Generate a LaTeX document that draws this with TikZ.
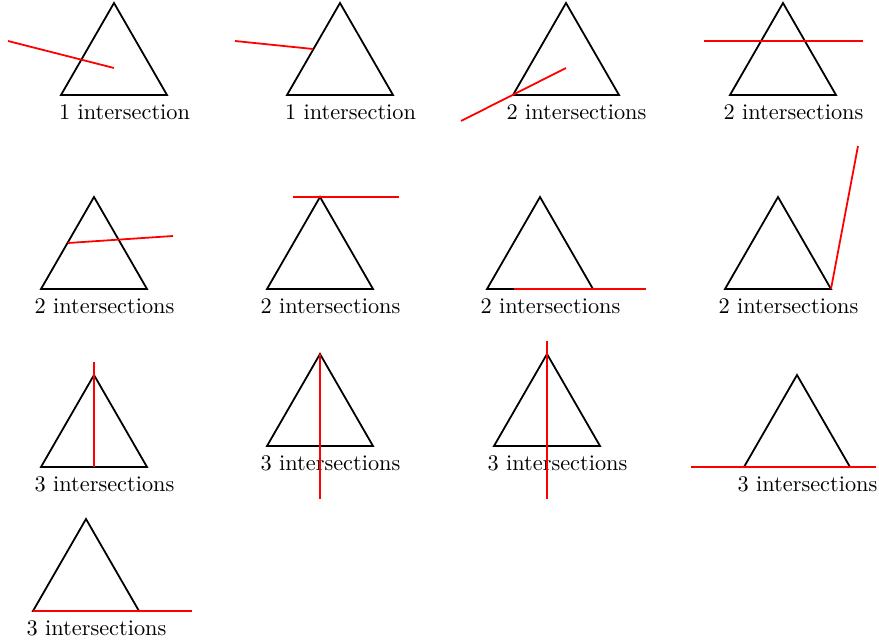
\documentclass[tikz,border=0pt]{standalone}
\usetikzlibrary{calc}
\begin{document}
\begin{tikzpicture}[x=0.4484pt,y=-0.4484pt,
  tri/.style={black,thick,line join=miter},
  seg/.style={red,thick},
  lab/.style={inner sep=0pt}]
\useasboundingbox (0,0) rectangle (879,640);
\newcommand\mytri[4]{%
  \path (#2,#3) coordinate (#1a) ++(-53,92) coordinate (#1b) ++(106,0) coordinate (#1c);
  \draw[tri] (#1a) -- (#1b) -- (#1c) -- cycle;
  \path (#1b) ++(63.5,17) node[lab] (#1l) {#4};
}
% row 1
\mytri{t1}{114}{3}{1 intersection}
\mytri{t2}{340}{3}{1 intersection}
\mytri{t3}{566}{3}{2 intersections}
\mytri{t4}{783}{3}{2 intersections}
% row 2
\mytri{t5}{94}{197}{2 intersections}
\mytri{t6}{320}{197}{2 intersections}
\mytri{t7}{540}{197}{2 intersections}
\mytri{t8}{778}{197}{2 intersections}
% row 3
\mytri{t9}{94}{375}{3 intersections}
\mytri{t10}{320}{354}{3 intersections}
\mytri{t11}{547}{354}{3 intersections}
\mytri{t12}{797}{375}{3 intersections}
% row 4
\mytri{t13}{86}{519}{3 intersections}
% red segments
\coordinate (r1a) at (8,41);    \coordinate (r1b) at (114,68);
\coordinate (r2a) at (235,41);  \coordinate (r2b) at (313,49);
\coordinate (r3a) at (461,121); \coordinate (r3b) at (566,68);
\coordinate (r4a) at (704,41);  \coordinate (r4b) at (863,41);
\coordinate (r5a) at (68,243);  \coordinate (r5b) at (173,236);
\coordinate (r6a) at (293,197); \coordinate (r6b) at (399,197);
\coordinate (r7a) at (514,289); \coordinate (r7b) at (646,289);
\coordinate (r8b) at (858,146);
\coordinate (r9a) at (94,362);
\coordinate (r10b) at (320,499);
\coordinate (r11a) at (547,341); \coordinate (r11b) at (547,499);
\coordinate (r12a) at (691,467); \coordinate (r12b) at (876,467);
\coordinate (r13b) at (192,611);
\draw[seg] (r1a) -- (r1b);
\draw[seg] (r2a) -- (r2b);
\draw[seg] (r3a) -- (r3b);
\draw[seg] (r4a) -- (r4b);
\draw[seg] (r5a) -- (r5b);
\draw[seg] (r6a) -- (r6b);
\draw[seg] (r7a) -- (r7b);
\draw[seg] (t8c) -- (r8b);
\draw[seg] (r9a) -- (t9b -| r9a);
\draw[seg] (t10a) -- (r10b);
\draw[seg] (r11a) -- (r11b);
\draw[seg] (r12a) -- (r12b);
\draw[seg] (t13b) -- (r13b);
\end{tikzpicture}
\end{document}
